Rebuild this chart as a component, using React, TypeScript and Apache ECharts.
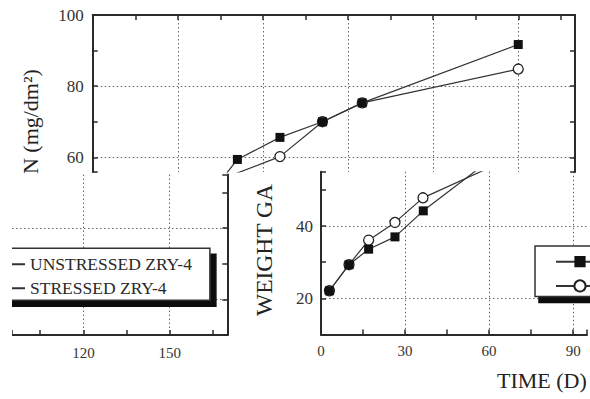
import React, { useEffect, useRef } from 'react';
import * as echarts from 'echarts';

const unstressedName = 'UNSTRESSED ZRY-4';
const stressedName = 'STRESSED ZRY-4';

// Top panel: N (mg/dm²) vs time (days)
const nUnstressed: [number, number][] = [[36, 44.1], [51, 59.4], [66, 65.6], [81, 70.0], [95, 75.3], [150, 91.7]];
const nStressed: [number, number][] = [[36, 51], [66, 60.2], [81, 70.0], [95, 75.3], [150, 84.8]];

// Lower right panel: weight gain vs time (days)
const wgUnstressed: [number, number][] = [[3, 22.1], [10, 29.3], [17, 33.6], [26.4, 37.0], [36.5, 44.2], [60, 58.1]];
const wgStressed: [number, number][] = [[3, 22.1], [10, 29.3], [17, 36.1], [26.4, 41.0], [36.4, 47.8], [60, 56.1]];

// Tick labels shown
const nLabels = [60, 80, 100];
const wgLabels = [20, 40];
const timeLabelsLeft = [120, 150];
const timeLabelsRight = [0, 30, 60, 90];

const FONT = '"Liberation Serif", "DejaVu Serif", serif';
const AXIS = '#2a2a2a';
const GRIDC = '#666';
const N = 'none';

const has = (arr: number[], v: number) => arr.some((a) => Math.abs(a - v) < 1e-6);

const split = (colors: string[]) => ({
  show: true,
  lineStyle: { color: colors, type: [1.5, 2.5] as any, width: 1 },
});

const axisLine = { show: true, lineStyle: { color: AXIS, width: 2 } };
const tickIn = { show: true, inside: true, length: 5, lineStyle: { color: AXIS, width: 1.5 } };

export default function App() {
  const ref = useRef<HTMLDivElement>(null);
  useEffect(() => {
    if (!ref.current) return;
    const chart = echarts.init(ref.current, undefined, { renderer: 'svg' });
    const lineStyle = { color: '#333', width: 1.2 };
    const sq = { symbol: 'rect', symbolSize: 9, itemStyle: { color: '#111' }, lineStyle };
    const ci = {
      symbol: 'circle',
      symbolSize: 10,
      itemStyle: { color: '#fff', borderColor: '#222', borderWidth: 1.3 },
      lineStyle,
    };
    const option: any = {
      animation: false,
      backgroundColor: '#fff',
      grid: [
        { left: 92.7, top: 15, width: 482.3, height: 157 },
        { left: 12, top: 174.5, width: 215.3, height: 160.5 },
        { left: 321, top: 171.8, width: 269, height: 162.7 },
      ],
      xAxis: [
        {
          gridIndex: 0, type: 'value', position: 'top', min: 0, max: 170,
          minInterval: 15, maxInterval: 15,
          axisLine, axisTick: tickIn, axisLabel: { show: false },
          splitLine: split([N, N, GRIDC, N, GRIDC, N, GRIDC, N, GRIDC, N, GRIDC, N, N]),
        },
        {
          gridIndex: 1, type: 'value', position: 'bottom', min: 95.2, max: 170,
          minInterval: 15, maxInterval: 15,
          axisLine, axisTick: tickIn,
          axisLabel: {
            fontFamily: FONT, fontSize: 15, color: '#333', margin: 10,
            formatter: (v: number) => (has(timeLabelsLeft, v) ? String(v) : ''),
          },
          splitLine: split([N, N, GRIDC, N, GRIDC, N, N]),
        },
        {
          gridIndex: 2, type: 'value', position: 'bottom', min: 0, max: 94.94,
          minInterval: 15, maxInterval: 15,
          axisLine, axisTick: tickIn,
          axisLabel: {
            fontFamily: FONT, fontSize: 15, color: '#333', margin: 9,
            formatter: (v: number) => (has(timeLabelsRight, v) ? String(v) : ''),
          },
          splitLine: split([N, N, GRIDC, N, GRIDC, N, GRIDC, N]),
        },
      ],
      yAxis: [
        {
          gridIndex: 0, type: 'value', position: 'left', min: 55.87, max: 100,
          minInterval: 10, maxInterval: 10,
          axisLine, axisTick: tickIn,
          axisLabel: {
            fontFamily: FONT, fontSize: 17, color: '#333', margin: 9,
            formatter: (v: number) => (has(nLabels, v) ? String(v) : ''),
          },
          splitLine: split([N, GRIDC, N, GRIDC, N, N]),
        },
        {
          gridIndex: 0, type: 'value', position: 'right', min: 55.87, max: 100,
          minInterval: 10, maxInterval: 10,
          axisLine, axisTick: tickIn, axisLabel: { show: false }, splitLine: { show: false },
        },
        {
          gridIndex: 1, type: 'value', position: 'right', min: 10, max: 55,
          minInterval: 10, maxInterval: 10,
          axisLine, axisTick: tickIn, axisLabel: { show: false },
          splitLine: split([N, GRIDC, N, GRIDC, N, N]),
        },
        {
          gridIndex: 2, type: 'value', position: 'left', min: 10, max: 55,
          minInterval: 10, maxInterval: 10,
          axisLine, axisTick: tickIn,
          axisLabel: {
            fontFamily: FONT, fontSize: 17, color: '#333', margin: 8,
            formatter: (v: number) => (has(wgLabels, v) ? String(v) : ''),
          },
          splitLine: split([N, GRIDC, N, GRIDC, N, N]),
        },
      ],
      legend: [
        {
          orient: 'vertical', left: -24, top: 248.3,
          data: [unstressedName, stressedName],
          itemWidth: 40, itemHeight: 14, itemGap: 6,
          padding: [7, 18, 3, 8],
          backgroundColor: '#fff', borderColor: '#333', borderWidth: 1.5, borderRadius: 0,
          shadowColor: '#111', shadowBlur: 0, shadowOffsetX: 6, shadowOffsetY: 6,
          textStyle: { fontFamily: FONT, fontSize: 17.5, color: '#2a2a2a', lineHeight: 18 },
          selectedMode: false,
        },
        {
          orient: 'vertical', left: 535, top: 246,
          data: [unstressedName, stressedName],
          itemWidth: 48, itemHeight: 14, itemGap: 11.6,
          padding: [8.7, 10, 4, 20],
          formatter: () => '',
          backgroundColor: '#fff', borderColor: '#333', borderWidth: 1.5, borderRadius: 0,
          shadowColor: '#111', shadowBlur: 0, shadowOffsetX: 4, shadowOffsetY: 6,
          textStyle: { fontFamily: FONT, fontSize: 14 },
          selectedMode: false,
        },
      ],
      graphic: [
        { type: 'rect', z: 100, shape: { x: 0, y: 172, width: 12, height: 227 }, style: { fill: '#fff' } },
        {
          type: 'text', x: 30, y: 121.6, rotation: Math.PI / 2, z: 100,
          style: { text: 'N (mg/dm²)', fontFamily: FONT, fontSize: 22, fill: '#222', align: 'center', verticalAlign: 'middle' },
        },
        {
          type: 'text', x: 264, y: 250, rotation: Math.PI / 2, z: 100,
          style: { text: 'WEIGHT GA', fontFamily: FONT, fontSize: 23.5, fill: '#222', align: 'center', verticalAlign: 'middle' },
        },
        {
          type: 'text', x: 497, y: 380, z: 100,
          style: { text: 'TIME (D)', fontFamily: FONT, fontSize: 22, fill: '#222', align: 'left', verticalAlign: 'middle' },
        },
      ],
      series: [
        { type: 'line', name: stressedName, xAxisIndex: 0, yAxisIndex: 0, data: nStressed, clip: true, ...ci },
        { type: 'line', name: unstressedName, xAxisIndex: 0, yAxisIndex: 0, data: nUnstressed, clip: true, ...sq },
        { type: 'line', name: stressedName, xAxisIndex: 2, yAxisIndex: 3, data: wgStressed, clip: true, ...ci },
        { type: 'line', name: unstressedName, xAxisIndex: 2, yAxisIndex: 3, data: wgUnstressed, clip: true, ...sq },
      ],
    };
    chart.setOption(option);
    return () => chart.dispose();
  }, []);
  return (
    <div
      ref={ref}
      style={{ position: 'absolute', left: 0, top: 0, width: 590, height: 399, background: '#fff' }}
    />
  );
}
